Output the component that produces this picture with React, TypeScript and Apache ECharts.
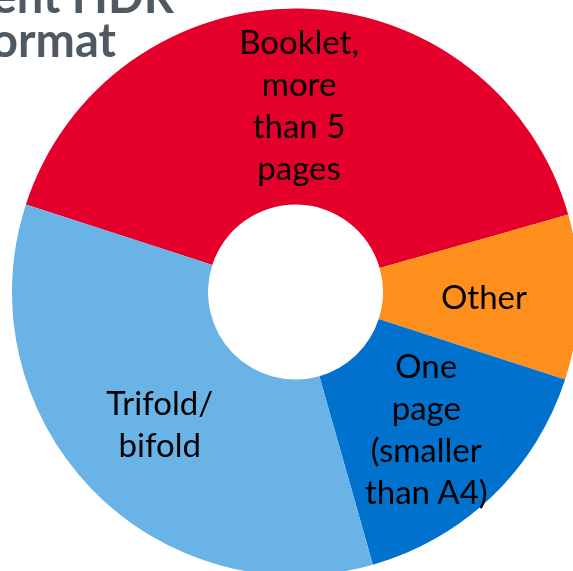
import React, { useEffect, useRef } from "react";
import * as echarts from "echarts";

const categories = [
  "Booklet,\nmore\nthan 5\npages",
  "Other",
  "One\npage\n(smaller\nthan A4)",
  "Trifold/\nbifold",
];
const values = [40.6, 9.4, 15.6, 34.4];
const colors = ["#E4002B", "#FF8F1C", "#0072CE", "#69B3E7"];
const titleLines = ["Current HDR", "format"];

export default function App() {
  const ref = useRef<HTMLDivElement>(null);
  useEffect(() => {
    if (!ref.current) return;
    const chart = echarts.init(ref.current, null, { renderer: "svg" });
    chart.setOption({
      animation: false,
      graphic: [
        {
          type: "text",
          x: 174,
          y: -5,
          style: {
            text: titleLines[0],
            fill: "#4F5964",
            font: "bold 47px Lato",
            lineHeight: 40,
            textAlign: "right",
            textVerticalAlign: "middle",
          },
        },
        {
          type: "text",
          x: 116,
          y: 39,
          style: {
            text: titleLines[1],
            fill: "#4F5964",
            font: "bold 47px Lato",
            lineHeight: 40,
            textAlign: "right",
            textVerticalAlign: "middle",
          },
        },
      ],
      series: [
        {
          type: "pie",
          center: [295.5, 292],
          radius: [87.5, 283.5],
          startAngle: 162,
          clockwise: true,
          avoidLabelOverlap: false,
          itemStyle: { borderWidth: 0 },
          label: {
            show: true,
            position: "inside",
            formatter: "{b}",
            color: "#000",
            fontFamily: "Lato",
            fontSize: 33,
            lineHeight: 42,
            align: "center",
          },
          labelLine: { show: false },
          emphasis: { disabled: true },
          data: categories.map((c, i) => ({
            name: c,
            value: values[i],
            itemStyle: { color: colors[i] },
          })),
        },
      ],
    });
    return () => chart.dispose();
  }, []);
  return (
    <div
      ref={ref}
      style={{ position: "fixed", left: 0, top: 0, width: 573, height: 571 }}
    />
  );
}
